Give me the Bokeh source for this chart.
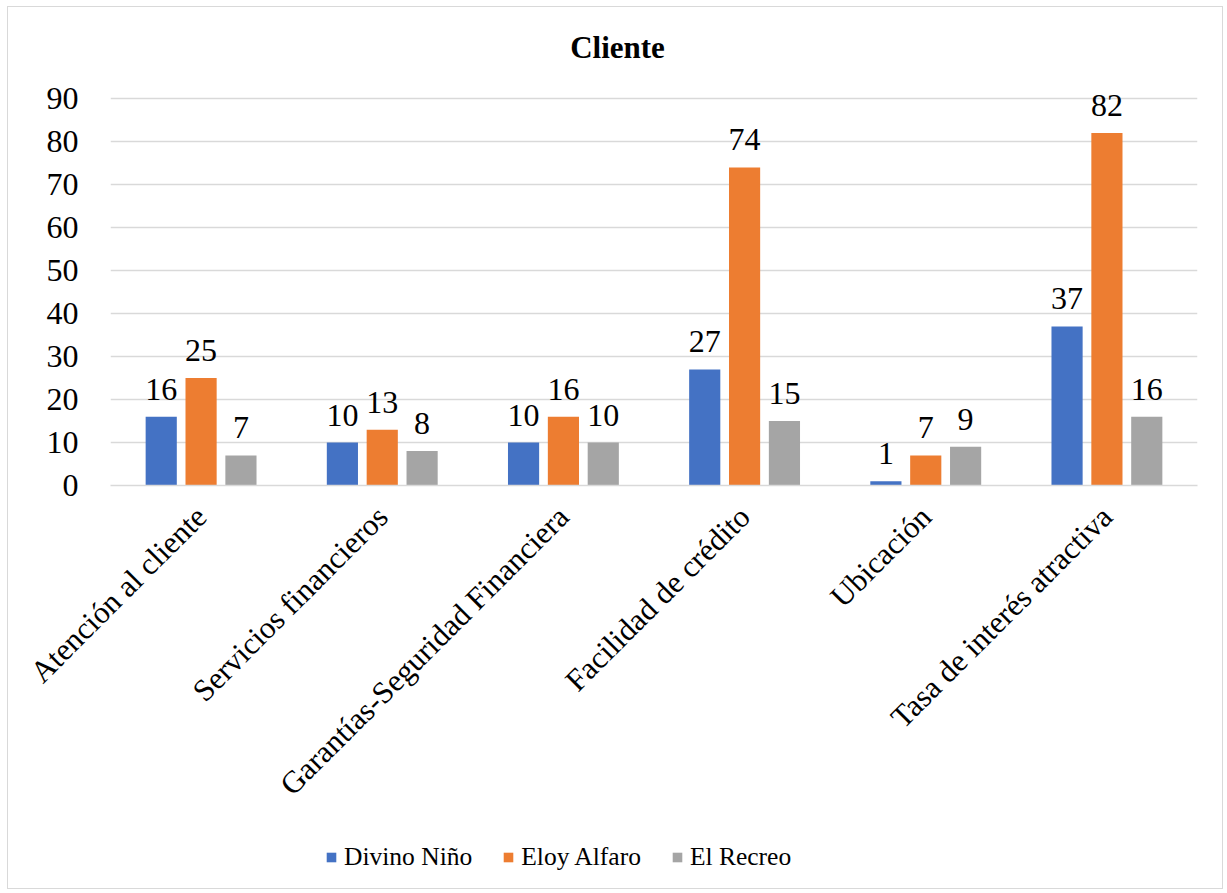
from math import pi
from bokeh.plotting import figure
from bokeh.layouts import column
from bokeh.models import (ColumnDataSource, FactorRange, Range1d, FixedTicker, LabelSet,
                          Legend, LegendItem, Label)
from bokeh.transform import dodge
from bokeh.embed import file_html
from bokeh.resources import INLINE

categories = ["Atención al cliente", "Servicios financieros", "Garantías-Seguridad Financiera",
              "Facilidad de crédito", "Ubicación", "Tasa de interés atractiva"]
series = ["Divino Niño", "Eloy Alfaro", "El Recreo"]
divino_nino = [16, 10, 10, 27, 1, 37]
eloy_alfaro = [25, 13, 16, 74, 7, 82]
el_recreo = [7, 8, 10, 15, 9, 16]
y_ticks = [0, 10, 20, 30, 40, 50, 60, 70, 80, 90]
colors = ["#4472C4", "#ED7D31", "#A5A5A5"]

FONT = "Liberation Serif"

src = ColumnDataSource(dict(cat=categories,
                            s0=divino_nino, s1=eloy_alfaro, s2=el_recreo,
                            l0=[str(v) for v in divino_nino],
                            l1=[str(v) for v in eloy_alfaro],
                            l2=[str(v) for v in el_recreo]))

x_range = FactorRange(*categories, range_padding=0)

# frame reaches up into the title band (grid and ticks stop at 90)
p = figure(frame_width=1085, frame_height=463, x_range=x_range,
           y_range=Range1d(0, 108.2), output_backend="svg", toolbar_location=None,
           min_border_left=102, min_border_right=27, min_border_top=13, min_border_bottom=405,
           margin=(6, 0, 0, 7))
p.styles = {"border": "1.5px solid #d9d9d9"}
p.outline_line_color = None
p.background_fill_color = "white"
p.border_fill_color = "white"

p.add_layout(Label(text="Cliente", x=507, y=438, x_units="screen", y_units="screen",
                   text_align="center", text_baseline="middle", text_font=FONT,
                   text_font_size="31px", text_font_style="bold", text_color="black"))

offsets = [-0.22, 0.0, 0.22]
for i in range(3):
    p.vbar(x=dodge("cat", offsets[i], range=x_range), top="s%d" % i, width=0.172,
           source=src, fill_color=colors[i], line_color=None)
    lab = LabelSet(x=dodge("cat", offsets[i], range=x_range), y="s%d" % i, text="l%d" % i,
                   source=src, text_align="center", text_baseline="alphabetic", y_offset=17,
                   text_font=FONT, text_font_size="32px", text_color="black")
    p.add_layout(lab)

p.yaxis.ticker = FixedTicker(ticks=y_ticks)
p.yaxis.axis_line_color = None
p.yaxis.major_tick_line_color = None
p.yaxis.minor_tick_line_color = None
p.yaxis.major_label_standoff = 26
p.yaxis.major_label_text_font = FONT
p.yaxis.major_label_text_font_size = "32px"
p.yaxis.major_label_text_color = "black"

p.xaxis.axis_line_color = "#d9d9d9"
p.xaxis.axis_line_width = 1.5
p.xaxis.major_tick_line_color = None
p.xaxis.minor_tick_line_color = None
p.xaxis.major_label_orientation = pi / 4
p.xaxis.major_label_standoff = 20
p.xaxis.major_label_text_font = FONT
p.xaxis.major_label_text_font_size = "31px"
p.xaxis.major_label_text_color = "black"

p.xgrid.grid_line_color = None
p.ygrid.ticker = FixedTicker(ticks=y_ticks)
p.ygrid.grid_line_color = "#d9d9d9"
p.ygrid.grid_line_width = 1.5

# legend strip, pulled up over the empty bottom band of the chart;
# its series renderers are hidden, so only the legend shows
lg = figure(width=1214, height=50, x_range=x_range, y_range=Range1d(-2, -1),
            output_backend="svg", toolbar_location=None, min_border=0,
            margin=(-58, 0, 0, 7))
lg.axis.visible = False
lg.grid.grid_line_color = None
lg.outline_line_color = None
lg.background_fill_alpha = 0
lg.border_fill_alpha = 0
swatches = [lg.vbar(x=dodge("cat", offsets[i], range=x_range), top="s%d" % i, width=0.172,
                    source=src, fill_color=colors[i], line_color=None, visible=False)
            for i in range(3)]
legend = Legend(items=[LegendItem(label=series[i], renderers=[swatches[i]]) for i in range(3)],
                orientation="horizontal", location=(216, 9), glyph_width=12, glyph_height=12,
                label_standoff=7, spacing=30, label_text_font=FONT, label_text_font_size="25.5px",
                label_text_color="black", border_line_color=None, background_fill_alpha=0,
                inactive_fill_alpha=0, padding=0, margin=0)
lg.add_layout(legend, "center")

page = column(p, lg, spacing=0)
open("out.html", "w").write(file_html(page, INLINE))
